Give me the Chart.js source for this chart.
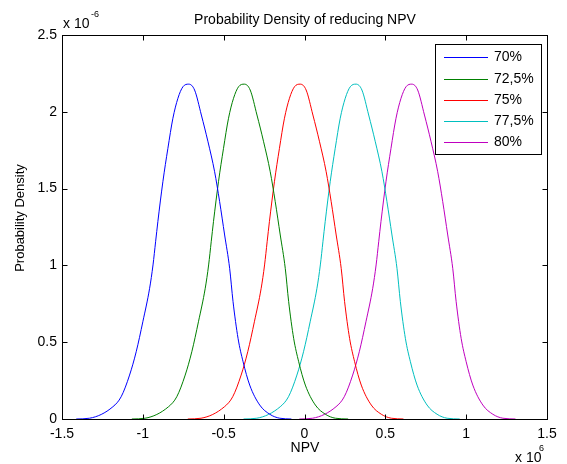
<!DOCTYPE html>
<html>
<head>
<meta charset="utf-8">
<script src="https://cdn.jsdelivr.net/npm/chart.js@4/dist/chart.umd.min.js"></script>
<style>
  html, body { margin: 0; padding: 0; background: #fff; }
  #wrap { width: 567px; height: 464px; }
</style>
</head>
<body>
<div id="wrap"><canvas id="pdfChart" width="567" height="464"></canvas></div>
<script>
// NPV in units of 1e6, density in units of 1e-6
const seriesLabels = ['70%', '72,5%', '75%', '77,5%', '80%'];
const seriesColors = ['#0000ff', '#008000', '#ff0000', '#00bfbf', '#bf00bf'];

const npv70 = [-1.412, -1.330, -1.185, -1.134, -1.082, -1.041, -1.000, -0.958, -0.937, -0.921, -0.907, -0.876, -0.845, -0.814, -0.783, -0.752, -0.716, -0.680, -0.638, -0.597, -0.556, -0.525, -0.494, -0.463, -0.442, -0.411, -0.380, -0.339, -0.277, -0.215, -0.153, -0.081];
const pdf70 = [0, 0.005, 0.080, 0.145, 0.286, 0.438, 0.633, 0.851, 1.003, 1.154, 1.285, 1.545, 1.762, 1.958, 2.088, 2.163, 2.180, 2.142, 1.979, 1.805, 1.610, 1.415, 1.198, 0.981, 0.764, 0.525, 0.373, 0.221, 0.091, 0.031, 0.005, 0];

const npv725 = [-1.068, -0.986, -0.841, -0.790, -0.738, -0.697, -0.656, -0.614, -0.593, -0.577, -0.563, -0.532, -0.501, -0.470, -0.439, -0.408, -0.372, -0.336, -0.294, -0.253, -0.212, -0.181, -0.150, -0.119, -0.098, -0.067, -0.036, 0.005, 0.067, 0.129, 0.191, 0.270];
const pdf725 = [0, 0.005, 0.080, 0.145, 0.286, 0.438, 0.633, 0.851, 1.003, 1.154, 1.285, 1.545, 1.762, 1.958, 2.088, 2.163, 2.180, 2.142, 1.979, 1.805, 1.610, 1.415, 1.198, 0.981, 0.764, 0.525, 0.373, 0.221, 0.091, 0.031, 0.005, 0];

const npv75 = [-0.722, -0.640, -0.495, -0.444, -0.392, -0.351, -0.310, -0.268, -0.247, -0.231, -0.217, -0.186, -0.155, -0.124, -0.093, -0.062, -0.026, 0.010, 0.052, 0.093, 0.134, 0.165, 0.196, 0.227, 0.248, 0.279, 0.310, 0.351, 0.413, 0.475, 0.537, 0.612];
const pdf75 = [0, 0.005, 0.080, 0.145, 0.286, 0.438, 0.633, 0.851, 1.003, 1.154, 1.285, 1.545, 1.762, 1.958, 2.088, 2.163, 2.180, 2.142, 1.979, 1.805, 1.610, 1.415, 1.198, 0.981, 0.764, 0.525, 0.373, 0.221, 0.091, 0.031, 0.005, 0];

const npv775 = [-0.377, -0.295, -0.150, -0.099, -0.047, -0.006, 0.035, 0.077, 0.098, 0.114, 0.128, 0.159, 0.190, 0.221, 0.252, 0.283, 0.319, 0.355, 0.397, 0.438, 0.479, 0.510, 0.541, 0.572, 0.593, 0.624, 0.655, 0.696, 0.758, 0.820, 0.882, 0.960];
const pdf775 = [0, 0.005, 0.080, 0.145, 0.286, 0.438, 0.633, 0.851, 1.003, 1.154, 1.285, 1.545, 1.762, 1.958, 2.088, 2.163, 2.180, 2.142, 1.979, 1.805, 1.610, 1.415, 1.198, 0.981, 0.764, 0.525, 0.373, 0.221, 0.091, 0.031, 0.005, 0];

const npv80 = [-0.032, 0.050, 0.195, 0.246, 0.298, 0.339, 0.380, 0.422, 0.443, 0.459, 0.473, 0.504, 0.535, 0.566, 0.597, 0.628, 0.664, 0.700, 0.742, 0.783, 0.824, 0.855, 0.886, 0.917, 0.938, 0.969, 1.000, 1.041, 1.103, 1.165, 1.227, 1.305];
const pdf80 = [0, 0.005, 0.080, 0.145, 0.286, 0.438, 0.633, 0.851, 1.003, 1.154, 1.285, 1.545, 1.762, 1.958, 2.088, 2.163, 2.180, 2.142, 1.979, 1.805, 1.610, 1.415, 1.198, 0.981, 0.764, 0.525, 0.373, 0.221, 0.091, 0.031, 0.005, 0];

const xTickValues = [-1.5, -1, -0.5, 0, 0.5, 1, 1.5];
const yTickValues = [0, 0.5, 1, 1.5, 2, 2.5];

const FONT = "'Liberation Sans', Arial, Helvetica, sans-serif";

const allX = [npv70, npv725, npv75, npv775, npv80];
const allY = [pdf70, pdf725, pdf75, pdf775, pdf80];

const datasets = seriesLabels.map((label, i) => ({
    label: label,
    data: allX[i].map((x, j) => ({ x: x, y: allY[i][j] })),
    borderColor: seriesColors[i],
    borderWidth: 1,
    pointRadius: 0,
    cubicInterpolationMode: 'monotone',
    fill: false
}));

function fmt(v) {
    return String(Number(v.toFixed(1)));
}

// white page, box with inward ticks, annotations and legend like MATLAB
const matlabFrame = {
    id: 'matlabFrame',
    beforeDraw(chart) {
        const ctx = chart.ctx;
        ctx.save();
        ctx.fillStyle = '#fff';
        ctx.fillRect(0, 0, chart.width, chart.height);
        ctx.restore();
    },
    afterDatasetsDraw(chart) {
        const ctx = chart.ctx;
        const a = chart.chartArea;
        const xs = chart.scales.x;
        const ys = chart.scales.y;
        const L = Math.round(a.left) + 0.5;
        const R = Math.round(a.right) + 0.5;
        const T = Math.round(a.top) + 0.5;
        const B = Math.round(a.bottom) + 0.5;

        ctx.save();
        ctx.strokeStyle = '#000';
        ctx.lineWidth = 1;
        ctx.strokeRect(L, T, R - L, B - T);

        const tl = 5;
        ctx.beginPath();
        xTickValues.slice(1, -1).forEach(v => {
            const px = Math.round(xs.getPixelForValue(v)) + 0.5;
            ctx.moveTo(px, B); ctx.lineTo(px, B - tl);
            ctx.moveTo(px, T); ctx.lineTo(px, T + tl);
        });
        yTickValues.slice(1, -1).forEach(v => {
            const py = Math.round(ys.getPixelForValue(v)) + 0.5;
            ctx.moveTo(L, py); ctx.lineTo(L + tl, py);
            ctx.moveTo(R, py); ctx.lineTo(R - tl, py);
        });
        ctx.stroke();

        // texts
        ctx.fillStyle = '#000';
        ctx.textBaseline = 'middle';
        ctx.textAlign = 'center';
        ctx.font = '14px ' + FONT;
        ctx.fillText('Probability Density of reducing NPV', (L + R) / 2, 20);
        ctx.fillText('NPV', (L + R) / 2, 448);

        ctx.textAlign = 'left';
        ctx.fillText('x 10', 63, 24);
        ctx.font = '9px ' + FONT;
        ctx.fillText('-6', 91, 15);
        ctx.font = '14px ' + FONT;
        ctx.fillText('x 10', 515, 458);
        ctx.font = '9px ' + FONT;
        ctx.fillText('6', 539, 449);

        ctx.save();
        ctx.translate(20, 218);
        ctx.rotate(-Math.PI / 2);
        ctx.textAlign = 'center';
        ctx.font = '13px ' + FONT;
        ctx.fillText('Probability Density', 0, 0);
        ctx.restore();

        // legend
        const bx = 435.5, by = 44.5, bw = 106, bh = 110;
        ctx.fillStyle = '#fff';
        ctx.fillRect(bx, by, bw, bh);
        ctx.strokeStyle = '#000';
        ctx.strokeRect(bx, by, bw, bh);
        const rows = [57, 78.5, 99.5, 120.5, 142];
        ctx.font = '14px ' + FONT;
        ctx.textAlign = 'left';
        chart.data.datasets.forEach((ds, i) => {
            const y = Math.round(rows[i]) + 0.5;
            ctx.strokeStyle = ds.borderColor;
            ctx.beginPath();
            ctx.moveTo(444, y);
            ctx.lineTo(488, y);
            ctx.stroke();
            ctx.fillStyle = '#000';
            ctx.fillText(ds.label, 494, rows[i] + 0.5);
        });
        ctx.restore();
    }
};

const ctx = document.getElementById('pdfChart').getContext('2d');
new Chart(ctx, {
    type: 'line',
    data: { datasets: datasets },
    options: {
        responsive: false,
        animation: false,
        events: [],
        layout: { padding: { left: 0, right: 20, top: 35, bottom: 0 } },
        plugins: {
            legend: { display: false },
            title: { display: false },
            tooltip: { enabled: false }
        },
        scales: {
            x: {
                type: 'linear',
                min: -1.5,
                max: 1.5,
                grid: { display: false, drawTicks: false },
                border: { display: false },
                afterBuildTicks: s => { s.ticks = xTickValues.map(v => ({ value: v })); },
                afterFit: s => { s.height = 45; },
                ticks: {
                    padding: 7,
                    maxRotation: 0,
                    color: '#000',
                    font: { family: FONT, size: 14 },
                    callback: v => fmt(v)
                }
            },
            y: {
                type: 'linear',
                min: 0,
                max: 2.5,
                grid: { display: false, drawTicks: false },
                border: { display: false },
                afterBuildTicks: s => { s.ticks = yTickValues.map(v => ({ value: v })); },
                afterFit: s => { s.width = 62; },
                ticks: {
                    padding: 5,
                    color: '#000',
                    font: { family: FONT, size: 14 },
                    callback: v => fmt(v)
                }
            }
        }
    },
    plugins: [matlabFrame]
});
</script>
</body>
</html>
